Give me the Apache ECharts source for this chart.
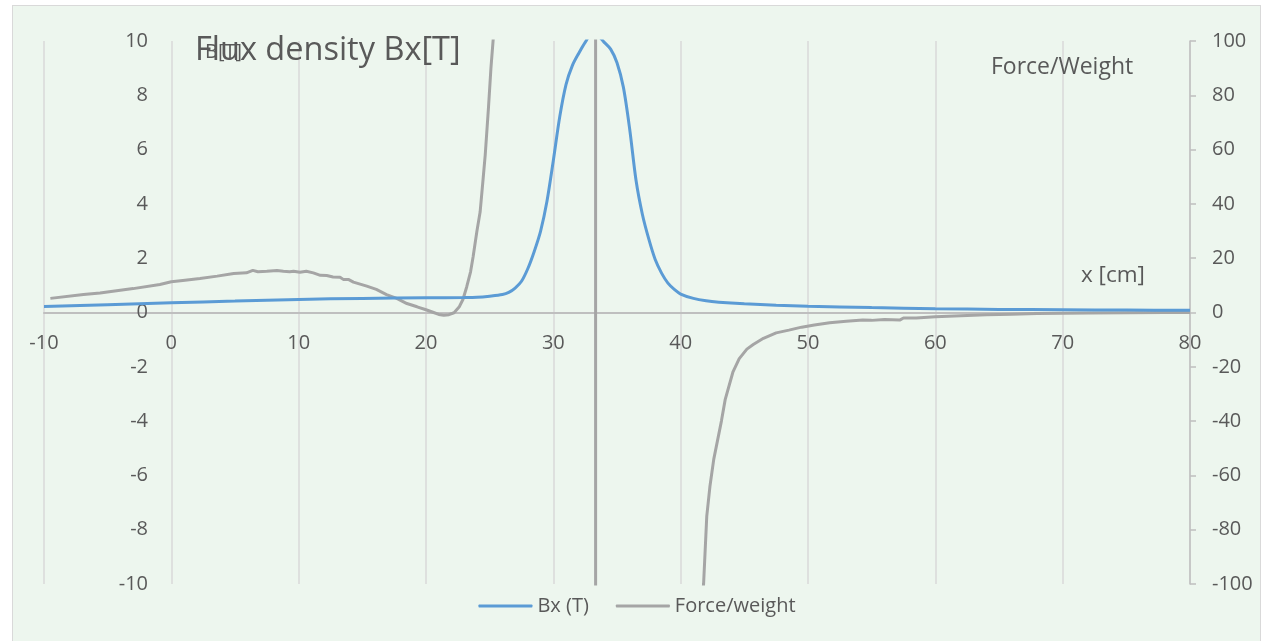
<!DOCTYPE html>
<html>
<head>
<meta charset="utf-8">
<script src="https://cdn.jsdelivr.net/npm/echarts@6/dist/echarts.min.js"></script>
<style>
html,body{margin:0;padding:0;background:#ffffff;width:1274px;height:641px;overflow:hidden;}
#frame{position:absolute;left:12px;top:5px;width:1247px;height:640px;border:1px solid #d9d9d9;background:#edf6ee;}
#chart{position:absolute;left:0;top:0;width:1274px;height:641px;}
</style>
</head>
<body>
<div id="frame"></div>
<div id="chart"></div>
<script>
// ---- data ----
const xTicks = [-10, 0, 10, 20, 30, 40, 50, 60, 70, 80];
const leftTicks = [-10, -8, -6, -4, -2, 0, 2, 4, 6, 8, 10];
const rightTicks = [-100, -80, -60, -40, -20, 0, 20, 40, 60, 80, 100];

const bxX = [-10, -5, 0, 5, 10, 15, 20, 23, 24, 25, 26, 26.5, 27, 27.5, 28, 28.5, 29, 29.5, 30, 30.5, 31, 31.5, 32, 32.5, 33, 33.5, 34, 34.5, 35, 35.5, 36, 36.5, 37, 37.5, 38, 38.5, 39, 39.5, 40, 41, 42, 43, 45, 47.5, 50, 55, 60, 65, 70, 75, 80];
const bxY = [0.22, 0.29, 0.36, 0.42, 0.48, 0.52, 0.54, 0.55, 0.56, 0.6, 0.66, 0.74, 0.9, 1.15, 1.62, 2.25, 3.0, 4.1, 5.6, 7.2, 8.4, 9.1, 9.55, 9.95, 10.25, 10.2, 9.95, 9.7, 9.2, 8.3, 6.74, 4.85, 3.6, 2.7, 1.95, 1.45, 1.08, 0.85, 0.68, 0.52, 0.43, 0.38, 0.32, 0.27, 0.23, 0.18, 0.14, 0.115, 0.1, 0.09, 0.08];

const fwX = [-9.5, -6.9, -5.6, -3.0, -0.9, 0, 0.9, 2.25, 3.6, 4.9, 5.9, 6.4, 6.8, 7.5, 8.3, 8.8, 9.3, 9.6, 10.1, 10.6, 11.15, 11.7, 12.2, 12.7, 13.25, 13.5, 13.9, 14.3, 15.35, 16.1, 16.9, 17.7, 18.5, 19.3, 20, 20.6, 21, 21.4, 21.8, 22.2, 22.6, 22.9, 23.2, 23.5, 23.7, 24.0, 24.25, 24.5, 24.65, 24.9, 25.1, 25.3, 25.6, 26, 28, 30, 32, 33.3, 33.34, 35, 37, 39, 40.5, 41.3, 41.8, 42.05, 42.3, 42.6, 43.2, 43.5, 44.1, 44.6, 45.2, 45.7, 46.5, 47.5, 48.5, 49.5, 50.5, 51.7, 53, 54.3, 55, 56, 57.2, 57.5, 58.5, 60, 62, 64, 66, 68, 70, 72, 75, 78, 80];
const fwY = [5.2, 6.6, 7.2, 8.8, 10.3, 11.3, 11.8, 12.5, 13.4, 14.4, 14.6, 15.5, 15.0, 15.2, 15.5, 15.2, 15.0, 15.2, 14.8, 15.2, 14.6, 13.7, 13.6, 13.1, 13.0, 12.2, 12.2, 11.2, 9.7, 8.5, 6.6, 5.2, 3.3, 2.1, 1.0, 0.0, -0.7, -1.0, -0.8, -0.1, 2.0, 4.8, 9.5, 15, 20.5, 30, 37, 50, 58, 75, 90, 102, 130, 160, 300, 550, 1000, 3000, -3000, -1200, -600, -300, -170, -125, -100, -75, -64, -54, -40, -32, -22, -17, -13.5, -11.8, -9.5, -7.5, -6.5, -5.4, -4.6, -3.8, -3.2, -2.8, -2.9, -2.6, -2.8, -2.0, -2.0, -1.6, -1.2, -0.8, -0.6, -0.4, -0.3, -0.2, -0.1, 0, 0];

const seriesNames = ['Bx (T)', 'Force/weight'];
const titleText = 'Flux density Bx[T]';
const leftName = 'B[T]';
const rightName = 'Force/Weight';
const xName = 'x [cm]';

// ---- chart ----
const FONT = 'Open Sans';
const TXT = '#595959';
const chart = echarts.init(document.getElementById('chart'), null, {renderer: 'canvas'});
const bxData = bxX.map((x, i) => [x, bxY[i]]);
const fwData = fwX.map((x, i) => [x, fwY[i]]);

chart.setOption({
  backgroundColor: 'transparent',
  animation: false,
  textStyle: {fontFamily: FONT, color: TXT},
  grid: {left: 44, right: 84, top: 41, bottom: 57, containLabel: false},
  legend: {
    data: seriesNames.map(n => ({name: n, icon: 'roundRect'})),
    left: 'center',
    top: 591,
    itemWidth: 54,
    itemHeight: 3,
    itemGap: 27,
    textStyle: {fontFamily: FONT, fontSize: 20, color: TXT}
  },
  graphic: [
    {type: 'text', z: 100, style: {text: leftName, x: 205, y: 52, fill: TXT, font: '20px "Open Sans"', textAlign: 'left', textVerticalAlign: 'middle'}},
    {type: 'text', z: 101, style: {text: titleText, x: 195, y: 51, fill: TXT, font: '32.5px "Open Sans"', textAlign: 'left', textVerticalAlign: 'middle'}},
    {type: 'text', z: 100, style: {text: rightName, x: 991, y: 67, fill: TXT, font: '23px "Open Sans"', textAlign: 'left', textVerticalAlign: 'middle'}},
    {type: 'text', z: 100, style: {text: xName, x: 1081, y: 276, fill: TXT, font: '22.5px "Open Sans"', textAlign: 'left', textVerticalAlign: 'middle'}}
  ],
  xAxis: {
    type: 'value', position: 'bottom', offset: -271,
    min: xTicks[0], max: xTicks[xTicks.length - 1], interval: 10,
    axisLine: {show: true, onZero: false, lineStyle: {color: '#bfbfbf', width: 2}},
    axisTick: {show: false},
    axisLabel: {margin: 20, fontSize: 20, color: TXT, fontFamily: FONT, showMinLabel: true, showMaxLabel: true},
    splitLine: {show: true, lineStyle: {color: '#d9d9d9', width: 1.5}}
  },
  yAxis: [
    {
      type: 'value', position: 'left', offset: -127,
      min: leftTicks[0], max: leftTicks[leftTicks.length - 1], interval: 2,
      axisLine: {show: false, onZero: false},
      axisTick: {show: false},
      splitLine: {show: false},
      axisLabel: {margin: 23, fontSize: 20, color: TXT, fontFamily: FONT, align: 'right'}
    },
    {
      type: 'value', position: 'right',
      min: rightTicks[0], max: rightTicks[rightTicks.length - 1], interval: 20,
      axisLine: {show: true, onZero: false, lineStyle: {color: '#bfbfbf', width: 1.5}},
      axisTick: {show: true, inside: false, length: 6, lineStyle: {color: '#bfbfbf', width: 1.5}},
      splitLine: {show: false},
      axisLabel: {margin: 22, fontSize: 20, color: TXT, fontFamily: FONT, align: 'left'}
    }
  ],
  series: [
    {
      name: seriesNames[0], type: 'line', yAxisIndex: 0, data: bxData,
      showSymbol: false, symbol: 'none', smooth: 0.3, clip: true, z: 3,
      lineStyle: {color: '#5b9bd5', width: 3}, itemStyle: {color: '#5b9bd5'}
    },
    {
      name: seriesNames[1], type: 'line', yAxisIndex: 1, data: fwData,
      showSymbol: false, symbol: 'none', smooth: false, clip: true, z: 2,
      lineStyle: {color: '#a5a5a5', width: 3}, itemStyle: {color: '#a5a5a5'}
    }
  ]
});
</script>
</body>
</html>
